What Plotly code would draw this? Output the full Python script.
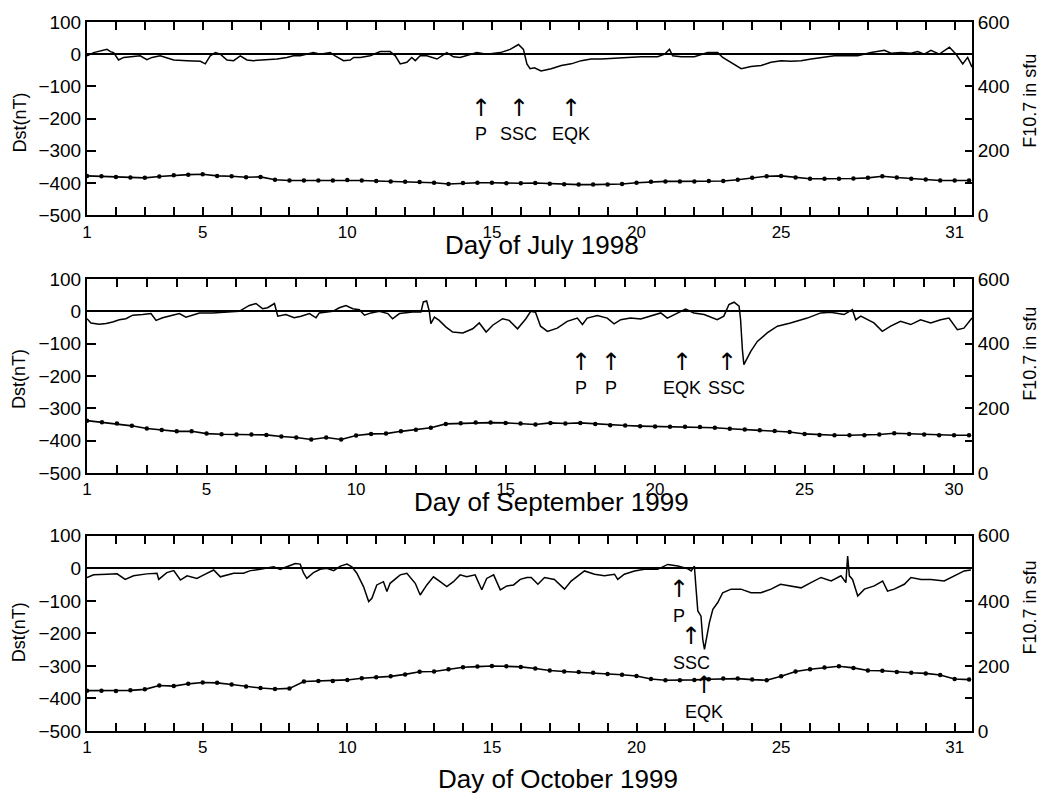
import plotly.graph_objects as go
import numpy as np

# ---------------- DATA ----------------
# July 1998
jul_dst_day = [1.0,1.23,1.69,1.81,1.92,2.09,2.27,2.61,2.84,3.07,3.25,3.53,3.88,4.0,4.46,4.92,5.09,5.26,5.44,5.61,
               5.84,6.07,6.3,6.53,6.76,7.22,7.57,7.91,8.14,8.37,8.83,9.06,9.41,9.58,9.87,10.1,10.22,10.45,10.79,11.14,
               11.48,11.66,11.83,12.06,12.23,12.35,12.52,12.75,13.1,13.44,13.67,13.9,14.13,14.48,14.82,15.29,15.63,15.92,16.09,16.21,
               16.32,16.47,16.7,17.05,17.4,17.74,18.09,18.43,18.78,19.24,19.7,20.16,20.73,20.97,21.14,21.25,21.54,22.0,22.46,22.81,
               22.98,23.27,23.62,23.96,24.31,24.65,25.0,25.35,25.69,26.04,26.5,26.84,27.19,27.65,28.11,28.57,28.8,29.15,29.49,29.72,
               29.95,30.18,30.47,30.82,31.05,31.28,31.45,31.6]
jul_dst_val = [-5,5,15,8,5,-18,-10,-7,-5,-17,-10,-5,-15,-18,-20,-22,-30,-5,5,0,
               -18,-20,-5,-18,-20,-17,-15,-10,-5,-5,5,0,5,-5,-20,-18,-10,-10,-5,8,
               8,-5,-30,-25,-10,-20,-5,-5,-15,5,-8,-10,-5,5,0,5,15,30,15,-30,
               -45,-42,-52,-45,-35,-30,-20,-15,-15,-12,-10,-8,-8,0,15,-5,-8,-8,5,5,
               -10,-25,-45,-38,-35,-25,-20,-22,-20,-15,-10,-5,-5,-5,5,12,3,5,3,8,
               0,12,0,22,0,-30,-10,-40]
jul_f107 = [122,121,119,117,116,120,124,126,127,122,121,118,119,110,108,108,108,108,109,108,
            106,105,104,103,101,97,100,101,101,99,99,100,98,96,95,95,95,97,101,104,
            105,105,105,106,106,110,116,121,122,117,113,113,113,114,116,121,117,113,111,108,
            108,108]

# September 1999
sep_dst_day = [1.0,1.13,1.41,1.64,1.86,2.08,2.3,2.53,2.86,3.14,3.31,3.53,3.86,4.09,4.31,4.53,4.76,5.2,5.65,6.09,
               6.43,6.65,6.87,7.04,7.27,7.38,7.65,7.93,8.16,8.44,8.66,8.77,9.22,9.44,9.66,9.89,10.11,10.28,10.5,10.78,
               11.06,11.22,11.45,11.89,12.17,12.25,12.36,12.45,12.5,12.62,12.78,13.0,13.23,13.57,13.9,14.12,14.35,14.57,14.9,15.12,
               15.4,15.68,15.84,16.0,16.17,16.4,16.73,17.06,17.4,17.57,17.73,18.07,18.4,18.63,18.85,19.18,19.52,19.85,20.19,20.41,
               20.63,21.02,21.3,21.64,22.08,22.3,22.47,22.64,22.81,22.86,22.92,22.97,23.2,23.42,23.75,24.09,24.53,25.09,25.54,25.87,
               26.32,26.6,26.71,26.88,27.32,27.6,27.88,28.21,28.55,28.88,29.22,29.55,29.83,30.11,30.33,30.55,30.6]
sep_dst_val = [-23,-36,-40,-38,-33,-26,-23,-12,-10,-7,-28,-20,-12,-7,-18,-12,-5,-5,-2,0,
               18,24,8,11,24,-15,-10,-20,-15,-7,-20,-5,0,11,18,8,5,-12,-5,0,
               -7,-23,-7,-2,-2,29,32,0,-38,-18,-28,-48,-64,-67,-54,-36,-64,-43,-23,-28,
               -54,-23,0,-3,-46,-62,-52,-31,-21,-41,-21,-13,-21,-39,-26,-21,-24,-15,-5,-21,
               -10,7,-5,-10,-26,-15,21,28,16,-26,-118,-165,-124,-93,-67,-46,-36,-21,-5,-3,
               -10,5,-26,-15,-36,-62,-46,-31,-41,-26,-36,-26,-21,-57,-52,-26,-21]
sep_f107 = [162,157,153,146,138,133,129,129,122,120,119,119,118,113,110,104,110,104,116,121,
            122,129,134,140,152,154,156,156,155,153,150,155,153,155,152,148,147,145,144,143,
            143,142,140,137,135,132,130,127,121,118,117,117,117,119,123,121,119,117,117,117]

# October 1999
oct_dst_day = [1.0,1.23,1.69,2.04,2.32,2.61,3.07,3.42,3.48,3.76,4.0,4.23,4.46,4.8,5.09,5.38,5.61,5.84,6.07,6.41,
               6.65,6.99,7.45,7.68,8.03,8.2,8.37,8.49,8.6,8.83,9.06,9.29,9.53,9.76,9.99,10.16,10.33,10.56,10.74,10.85,
               11.02,11.25,11.37,11.48,11.83,12.06,12.35,12.52,12.75,12.98,13.21,13.44,13.67,13.9,14.13,14.42,14.65,14.82,15.06,15.29,
               15.52,15.75,15.98,16.21,16.36,16.59,16.82,17.16,17.51,17.74,18.2,18.55,18.89,19.24,19.35,19.58,19.93,20.27,20.73,21.08,
               21.43,21.77,21.89,22.0,22.06,22.12,22.23,22.29,22.35,22.41,22.52,22.64,22.81,22.98,23.27,23.61,23.96,24.3,24.65,24.98,
               25.34,25.69,26.03,26.38,26.73,27.07,27.24,27.3,27.36,27.47,27.65,27.88,28.22,28.51,28.68,28.91,29.26,29.49,29.84,30.18,
               30.64,30.99,31.33,31.56]
oct_dst_val = [-28,-20,-18,-17,-34,-23,-17,-15,-34,-13,-7,-36,-23,-31,-18,-5,-26,-20,-15,-15,
               -7,-3,5,-3,10,15,13,-15,-31,-13,-3,0,-7,7,13,5,-15,-56,-102,-92,
               -51,-41,-71,-46,-20,-15,-46,-82,-51,-26,-41,-56,-41,-20,-26,-20,-66,-31,-20,-66,
               -54,-51,-34,-28,-28,-49,-28,-34,-64,-39,-8,-18,-23,-18,-34,-18,-8,-3,-3,12,
               7,-1,-8,7,-64,-131,-147,-218,-249,-218,-167,-126,-105,-75,-64,-64,-75,-75,-64,-49,
               -54,-60,-44,-28,-39,-23,-44,38,-23,-34,-85,-64,-54,-39,-70,-64,-49,-28,-34,-34,
               -39,-23,-8,-5]
oct_f107 = [124,124,123,125,128,140,138,145,149,148,143,137,132,129,131,152,154,154,157,162,
            165,168,174,182,183,190,196,198,200,199,197,192,186,183,181,179,175,173,169,160,
            156,156,157,159,161,161,158,156,168,183,190,195,199,194,186,185,181,179,177,172,
            160,158]

x_ticklabels_31 = ["1", "5", "10", "15", "20", "25", "31"]
x_ticklabels_30 = ["1", "5", "10", "15", "20", "25", "30"]
month_titles = ["Day of July 1998", "Day of September 1999", "Day of October 1999"]

# event markers: (label, day, arrow_dst, label_dst)
events_jul = [("P", 14.64, -168, -249), ("SSC", 15.92, -168, -249), ("EQK", 17.72, -168, -249)]
events_sep = [("P", 17.52, -158, -238), ("P", 18.53, -158, -238), ("EQK", 20.9, -158, -238), ("SSC", 22.4, -158, -238)]
events_oct = [("P", 21.48, -62, -145), ("SSC", 21.9, -209, -292), ("EQK", 22.35, -359, -442)]

# ---------------- FIGURE ----------------
FONT = "Liberation Sans, Arial, Helvetica, sans-serif"
fig = go.Figure()

panels = [
    (jul_dst_day, jul_dst_val, jul_f107, 31.6, x_ticklabels_31, 31, events_jul),
    (sep_dst_day, sep_dst_val, sep_f107, 30.6, x_ticklabels_30, 30, events_sep),
    (oct_dst_day, oct_dst_val, oct_f107, 31.6, x_ticklabels_31, 31, events_oct),
]
domains = [[0.7275, 1.0], [0.3638, 0.6376], [0.0, 0.2753]]
xtitle_pos = [(0.514, 0.686), (0.525, 0.323), (0.532, -0.067)]
dst_title_y = [0.858, 0.496, 0.139]
f_title_y = [0.889, 0.532, 0.174]

annotations = []
layout = {}
for i, (dd, dv, fv, xmax, xlab, ndays, events) in enumerate(panels):
    xa = "x" if i == 0 else f"x{i+1}"
    ya_l = "y" if i == 0 else f"y{2*i+1}"
    ya_r = f"y{2*i+2}"
    fdays = np.arange(1.0, 1.0 + 0.5 * len(fv), 0.5)[:len(fv)]
    fig.add_trace(go.Scatter(x=dd, y=dv, xaxis=xa, yaxis=ya_l, mode="lines",
                             line=dict(color="black", width=1.5), showlegend=False))
    fig.add_trace(go.Scatter(x=fdays, y=fv, xaxis=xa, yaxis=ya_r, mode="lines+markers",
                             line=dict(color="black", width=1.6),
                             marker=dict(color="black", size=4.5), showlegend=False))
    tickvals = list(range(1, ndays + 1))
    ticktext = [str(t) if str(t) in xlab else "" for t in tickvals]
    xkey = "xaxis" if i == 0 else f"xaxis{i+1}"
    ylkey = "yaxis" if i == 0 else f"yaxis{2*i+1}"
    yrkey = f"yaxis{2*i+2}"
    layout[xkey] = dict(domain=[0, 1], anchor=ya_l, range=[1, xmax], tickmode="array",
                        tickvals=tickvals, ticktext=ticktext, ticks="inside", ticklen=8,
                        tickwidth=2, tickcolor="black", showline=True, linecolor="black",
                        linewidth=2, mirror="ticks", showgrid=False, zeroline=False,
                        tickfont=dict(family=FONT, size=17, color="black"))
    layout[ylkey] = dict(domain=domains[i], anchor=xa, range=[-500, 100], tickmode="array",
                         tickvals=[-500, -400, -300, -200, -100, 0, 100],
                         ticks="inside", ticklen=9, tickwidth=2, tickcolor="black",
                         showline=True, linecolor="black", linewidth=2, mirror=True,
                         showgrid=False, zeroline=True, zerolinecolor="black", zerolinewidth=1.5,
                         tickfont=dict(family=FONT, size=19, color="black"))
    layout[yrkey] = dict(overlaying=ya_l, anchor=xa, side="right", range=[0, 600],
                         tickmode="array", tickvals=[0, 100, 200, 300, 400, 500, 600],
                         ticktext=["0", "", "200", "", "400", "", "600"],
                         ticks="inside", ticklen=7, tickwidth=2, tickcolor="black",
                         showline=True, linecolor="black", linewidth=2, showgrid=False,
                         zeroline=False, tickfont=dict(family=FONT, size=19, color="black"))
    annotations.append(dict(text=month_titles[i], xref="paper", yref="paper",
                            x=xtitle_pos[i][0], y=xtitle_pos[i][1], showarrow=False,
                            xanchor="center", yanchor="middle",
                            font=dict(family=FONT, size=26, color="black")))
    annotations.append(dict(text="Dst(nT)", xref="paper", yref="paper", x=-0.076,
                            y=dst_title_y[i], textangle=-90, showarrow=False,
                            xanchor="center", yanchor="middle",
                            font=dict(family=FONT, size=18, color="black")))
    annotations.append(dict(text="F10.7 in sfu", xref="paper", yref="paper", x=1.0655,
                            y=f_title_y[i], textangle=-90, showarrow=False,
                            xanchor="center", yanchor="middle",
                            font=dict(family=FONT, size=18, color="black")))
    for lab, day, ay, ly in events:
        annotations.append(dict(text="\u2191", xref=xa, yref=ya_l, x=day, y=ay,
                                showarrow=False, xanchor="center", yanchor="middle",
                                font=dict(family="DejaVu Sans", size=24, color="black")))
        annotations.append(dict(text=lab, xref=xa, yref=ya_l, x=day, y=ly,
                                showarrow=False, xanchor="center", yanchor="middle",
                                font=dict(family=FONT, size=18, color="black")))

fig.update_layout(**layout)
fig.update_layout(width=1054, height=793, margin=dict(l=87, r=82, t=19, b=62),
                  paper_bgcolor="white", plot_bgcolor="white",
                  annotations=annotations, showlegend=False)
fig.write_html("out.html", config={"displayModeBar": False},
               post_script="document.body.style.margin='0';document.body.style.overflow='hidden';")
